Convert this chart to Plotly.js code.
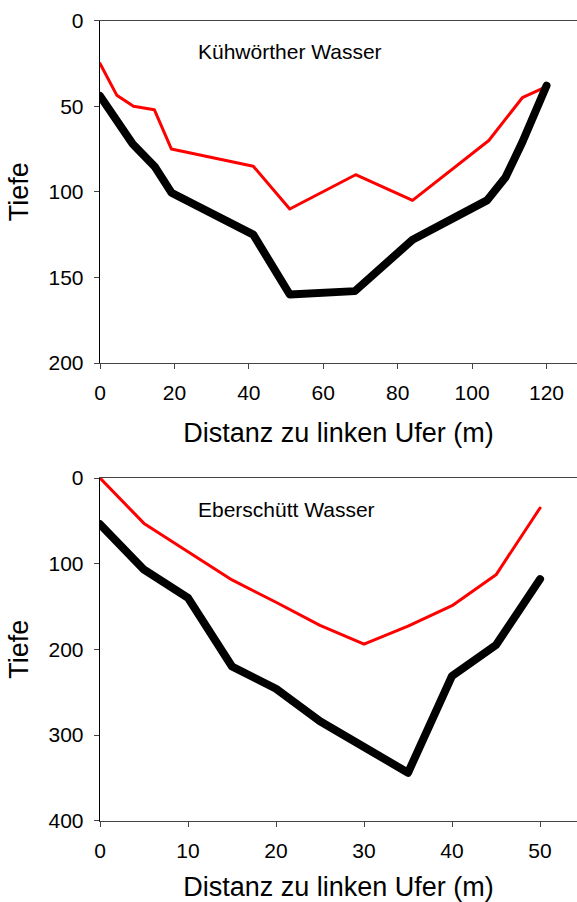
<!DOCTYPE html>
<html>
<head>
<meta charset="utf-8">
<script src="https://cdn.plot.ly/plotly-3.0.1.min.js"></script>
<style>
  html, body { margin: 0; padding: 0; background: #fff; }
  #chart { width: 577px; height: 902px; }
  .js-line { stroke-linejoin: round; stroke-linecap: round; }
</style>
</head>
<body>
<div id="chart"></div>
<script>
// Kühwörther Wasser: cross-section, distance from left bank (m) vs depth
const kwDistRed   = [0, 4.5, 9, 14.6, 19.2, 41.2, 51, 68.7, 84, 104.5, 113.5, 120];
const kwDepthRed  = [25, 43.5, 50, 52, 75, 85, 110, 90, 105, 70, 45, 38.5];
const kwDistBlack  = [0, 8.8, 14.8, 19.2, 41.2, 51, 68.5, 84, 104, 109, 113.5, 120];
const kwDepthBlack = [44, 72, 85.5, 100.5, 125, 160, 158, 128, 105, 91.5, 71, 38];

// Eberschütt Wasser
const ebDist       = [0, 5, 10, 15, 20, 25, 30, 35, 40, 45, 50];
const ebDepthRed   = [0, 53, 86, 119, 145, 172, 194, 173, 149, 113, 35];
const ebDepthBlack = [54, 107, 140, 220, 246, 284, 314, 344, 231, 195, 118];

const xTitle = 'Distanz zu linken Ufer (m)';
const yTitle = 'Tiefe';
const labelTop = 'Kühwörther Wasser';
const labelBottom = 'Eberschütt Wasser';

const FONT = 'Liberation Sans, Arial, sans-serif';
const RED = '#ff0000';
const BLACK = '#000000';

function line(x, y, color, width, xa, ya) {
  return { x: x, y: y, type: 'scatter', mode: 'lines', xaxis: xa, yaxis: ya,
           line: { color: color, width: width }, hoverinfo: 'skip', showlegend: false };
}

const data = [
  line(kwDistRed, kwDepthRed, RED, 3, 'x', 'y'),
  line(kwDistBlack, kwDepthBlack, BLACK, 8, 'x', 'y'),
  line(ebDist, ebDepthRed, RED, 3, 'x2', 'y2'),
  line(ebDist, ebDepthBlack, BLACK, 8, 'x2', 'y2')
];

const H = 902;
function dom(topPx, botPx) { return [1 - botPx / H, 1 - topPx / H]; }

const xBase = {
  showgrid: false, zeroline: false, showline: true, mirror: true,
  linecolor: '#444', linewidth: 1, ticks: 'outside', ticklen: 5, tickwidth: 1,
  tickcolor: '#444', ticklabelstandoff: 6,
  tickfont: { family: FONT, size: 21, color: '#000' },
  title: { text: xTitle, font: { family: FONT, size: 27, color: '#000' }, standoff: 19 }
};
const yBase = {
  showgrid: false, zeroline: false, showline: true, linecolor: '#000', linewidth: 1.3,
  ticks: 'outside', ticklen: 5, tickwidth: 1, tickcolor: '#444', ticklabelstandoff: 6,
  tickfont: { family: FONT, size: 21, color: '#000' },
  title: { text: yTitle, font: { family: FONT, size: 27, color: '#000' }, standoff: 12 }
};

const layout = {
  width: 577, height: 902,
  margin: { l: 100, r: 0, t: 0, b: 0 },
  paper_bgcolor: '#fff', plot_bgcolor: '#fff',
  font: { family: FONT, color: '#000' },
  xaxis:  Object.assign({}, xBase, { domain: [0, 1], range: [0, 128.2], dtick: 20, tick0: 0, anchor: 'y' }),
  yaxis:  Object.assign({}, yBase, { domain: dom(20.7, 363), range: [200, 0], dtick: 50, tick0: 0, anchor: 'x' }),
  xaxis2: Object.assign({}, xBase, { domain: [0, 1], range: [0, 54.2], dtick: 10, tick0: 0, anchor: 'y2' }),
  yaxis2: Object.assign({}, yBase, { domain: dom(478, 820.7), range: [400, 0], dtick: 100, tick0: 0, anchor: 'x2' }),
  annotations: [
    { text: labelTop, xref: 'x', yref: 'y', x: 25.8, y: 18, xanchor: 'left', yanchor: 'middle',
      showarrow: false, font: { family: FONT, size: 21, color: '#000' } },
    { text: labelBottom, xref: 'x2', yref: 'y2', x: 10.9, y: 36.5, xanchor: 'left', yanchor: 'middle',
      showarrow: false, font: { family: FONT, size: 21, color: '#000' } }
  ]
};

Plotly.newPlot('chart', data, layout, { staticPlot: true, displayModeBar: false });
</script>
</body>
</html>
